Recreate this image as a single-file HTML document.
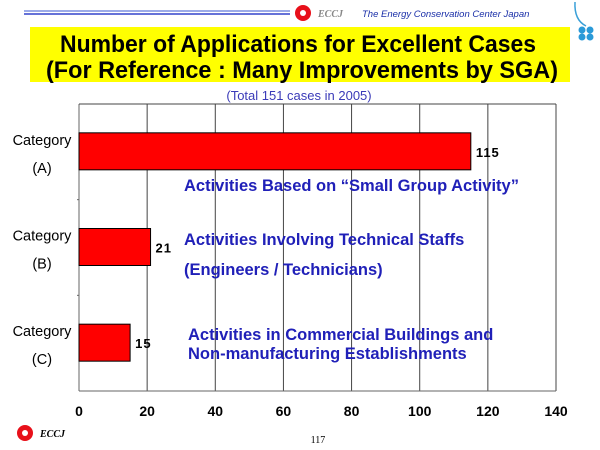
<!DOCTYPE html>
<html><head><meta charset="utf-8"><style>
body{margin:0;background:#fff;}
svg{display:block;font-family:"Liberation Sans",sans-serif;}
</style></head><body>
<svg id="c" width="600" height="450" viewBox="0 0 600 450">
<g>
<line x1="24" y1="11" x2="290" y2="11" stroke="#7b8fe0" stroke-width="1.5"/>
<line x1="24" y1="14" x2="290" y2="14" stroke="#3344cc" stroke-width="1.5"/>
<circle cx="303" cy="13" r="8" fill="#e8101a"/>
<circle cx="303" cy="13" r="3" fill="#fff"/>
<text x="318" y="17" font-family="Liberation Serif" font-style="italic" font-weight="bold" font-size="10" fill="#888">ECCJ</text>
<text x="362" y="17" font-style="italic" font-size="9.5" fill="#1a2fa8">The Energy Conservation Center Japan</text>
<path d="M575 2 Q574 20 586 26" stroke="#3aa0d8" fill="none" stroke-width="1.5"/>
<g fill="#2a9ad8"><circle cx="582" cy="30" r="3.5"/><circle cx="590" cy="30" r="3.5"/><circle cx="582" cy="37" r="3.5"/><circle cx="590" cy="37" r="3.5"/></g>
</g>
<rect x="30" y="27" width="540" height="55" fill="#ffff00"/>
<text x="60" y="52" font-size="24" font-weight="bold" textLength="476" lengthAdjust="spacingAndGlyphs">Number of Applications for Excellent Cases</text>
<text x="46" y="78" font-size="24" font-weight="bold" textLength="512" lengthAdjust="spacingAndGlyphs">(For Reference : Many Improvements by SGA)</text>
<text x="299" y="100" text-anchor="middle" font-size="13" fill="#3a3ab8">(Total 151 cases in 2005)</text>
<g id="plot"></g>
<g font-size="16.5" font-weight="bold" fill="#2020b8">
<text x="184" y="191">Activities Based on “Small Group Activity”</text>
<text x="184" y="245">Activities Involving Technical Staffs</text>
<text x="184" y="275">(Engineers / Technicians)</text>
<text x="188" y="340">Activities in Commercial Buildings and</text>
<text x="188" y="359">Non-manufacturing Establishments</text>
</g>
<circle cx="25" cy="433" r="8" fill="#e8101a"/>
<circle cx="25" cy="433" r="3" fill="#fff"/>
<text x="40" y="437" font-family="Liberation Serif" font-style="italic" font-weight="bold" font-size="10">ECCJ</text>
<text x="318" y="443" text-anchor="middle" font-family="Liberation Serif" font-size="10">117</text>
</svg>
<script>
const categories=["Category|(A)","Category|(B)","Category|(C)"];
const values=[115,21,15];
const ticks=[0,20,40,60,80,100,120,140];
const NS="http://www.w3.org/2000/svg";
const X0=79,X1=556,Y0=104,Y1=391,XMAX=140;
const xs=v=>X0+(v/XMAX)*(X1-X0);
const band=(Y1-Y0)/categories.length;
const g=document.getElementById('plot');
function mk(t,a,p){const e=document.createElementNS(NS,t);for(const k in a)e.setAttribute(k,a[k]);(p||g).appendChild(e);return e;}
ticks.forEach(t=>{
 const l=mk('line',{x1:xs(t),x2:xs(t),y1:Y0,y2:Y1,stroke:t===0?'#666':'#444','stroke-width':1});
 
 
 const tx=mk('text',{x:xs(t),y:416,'text-anchor':'middle','font-size':14,'font-weight':'bold'});
 tx.textContent=t;
 
 
});
const ax=mk('line',{x1:X0,x2:X1,y1:Y1,y2:Y1,stroke:'#666'});


const tp=mk('line',{x1:X0,x2:X1,y1:Y0,y2:Y0,stroke:'#444'});


for(let i=1;i<categories.length;i++){mk('line',{x1:X0-2,x2:X0,y1:Y0+band*i,y2:Y0+band*i,stroke:'#666'});}
categories.forEach((c,i)=>{
 const cy=Y0+band*(i+0.5);
 const r=mk('rect',{x:X0,y:cy-19,width:xs(values[i])-X0,height:37,fill:'#ff0000',stroke:'#000','stroke-width':1});
 
 
 const v=mk('text',{x:xs(values[i])+5,y:cy+5,'font-size':13,'font-weight':'bold','letter-spacing':'1'});
 v.textContent=values[i];
 
 
 const parts=c.split('|');
 const t1=mk('text',{x:42,y:cy-7,'text-anchor':'middle','font-size':14.5});
 t1.textContent=parts[0];
 
 
 const t2=mk('text',{x:42,y:cy+21,'text-anchor':'middle','font-size':14.5});
 t2.textContent=parts[1];
 
 
});
</script>
</body></html>
